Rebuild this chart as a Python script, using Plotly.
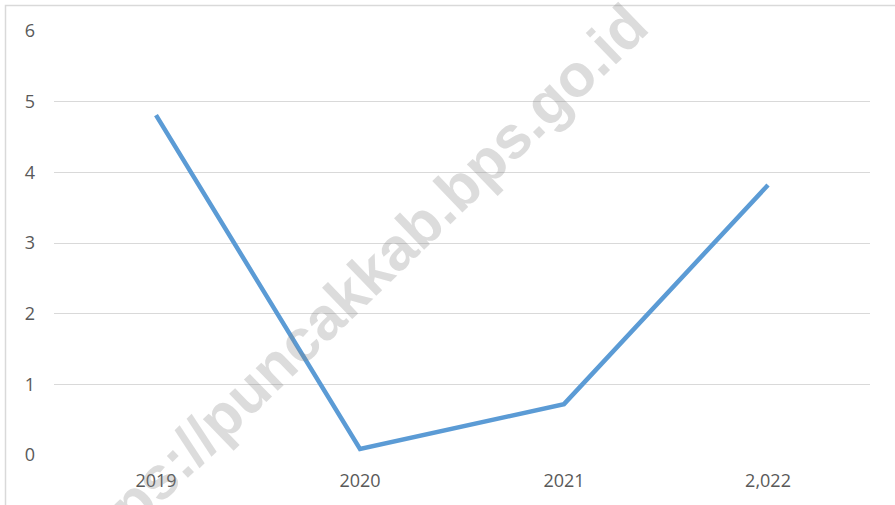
import plotly.graph_objects as go

years = ["2019", "2020", "2021", "2,022"]
values = [4.81, 0.085, 0.72, 3.82]
y_ticks = [0, 1, 2, 3, 4, 5, 6]
watermark = "https://puncakkab.bps.go.id"

fig = go.Figure()
fig.add_trace(go.Scatter(
    x=years, y=values, mode="lines",
    line=dict(color="#5b9bd5", width=4.5),
    hoverinfo="x+y",
))

W, H = 895, 505
L, R, T, B = 54, W - 870, 31, H - 455

def px_x(p):
    return (p - L) / (W - L - R)

def px_y(p):
    return (H - B - p) / (H - T - B)

tick_font = dict(family="Open Sans, Liberation Sans, sans-serif", size=18, color="#595959")

fig.update_layout(
    width=W, height=H,
    margin=dict(l=L, r=R, t=T, b=B),
    paper_bgcolor="white", plot_bgcolor="white",
    showlegend=False,
    font=tick_font,
    xaxis=dict(
        type="category", range=[-0.5, 3.5],
        showgrid=False, showline=False, zeroline=False,
        ticks="", ticklabelstandoff=13, tickfont=tick_font,
    ),
    yaxis=dict(
        range=[0, 6], tickvals=y_ticks,
        showgrid=True, gridcolor="#d9d9d9", gridwidth=1,
        zeroline=False, showline=False,
        ticks="", ticklabelstandoff=18, tickfont=tick_font,
    ),
    shapes=[dict(
        type="rect", xref="paper", yref="paper",
        x0=px_x(5.5), y0=px_y(600), x1=px_x(1000), y1=px_y(5.5),
        line=dict(color="#d9d9d9", width=1.5), layer="below",
    )],
    annotations=[dict(
        text="<b>" + watermark + "</b>",
        xref="paper", yref="paper",
        x=px_x(350), y=px_y(292), xanchor="center", yanchor="middle",
        showarrow=False, textangle=-44,
        font=dict(family="Liberation Sans, Arial, sans-serif", size=60,
                  color="rgba(128,128,128,0.28)"),
    )],
)

fig.write_html(
    "out.html",
    config={"displayModeBar": False},
    post_script="document.body.style.margin='0';document.body.style.overflow='hidden';",
)
